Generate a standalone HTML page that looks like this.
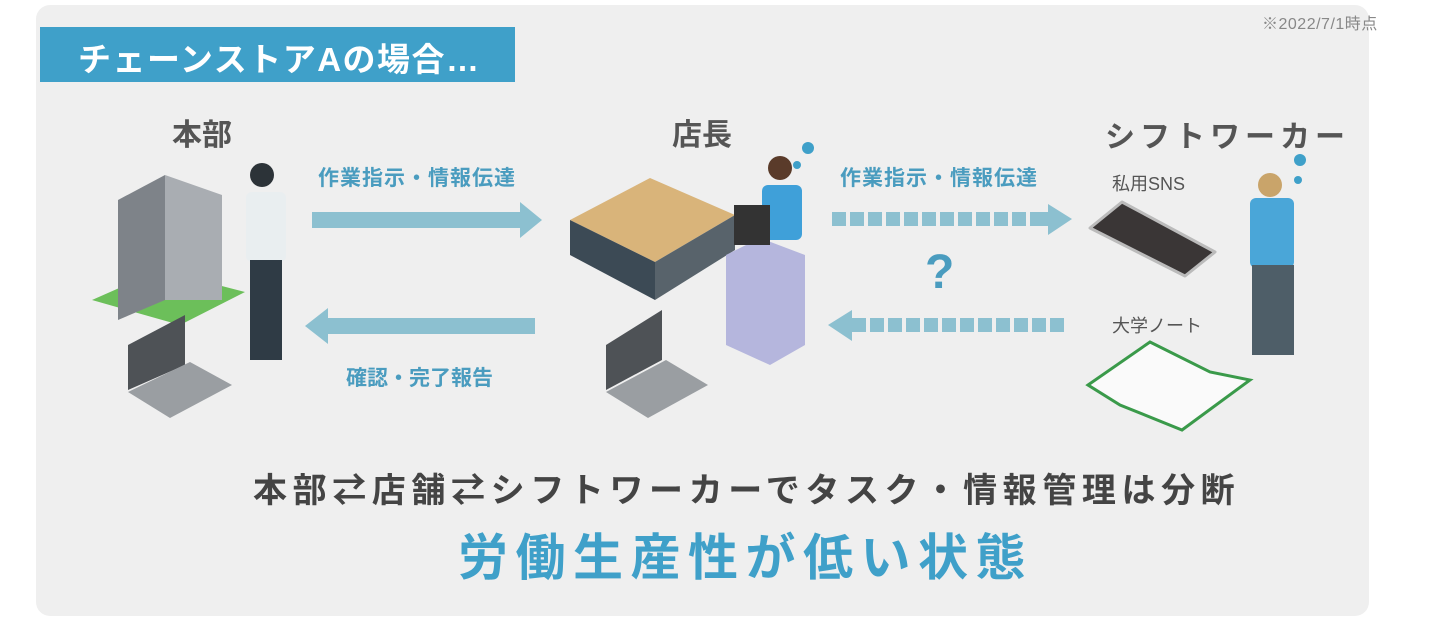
<!DOCTYPE html>
<html><head><meta charset="utf-8"><style>
body{margin:0;width:1440px;height:618px;background:#fff;position:relative;overflow:hidden;font-family:"Liberation Sans","Noto Sans CJK JP",sans-serif}
.t{position:absolute;white-space:nowrap}
</style></head><body>
<div style="position:absolute;left:36px;top:5px;width:1333px;height:611px;background:#efefef;border-radius:14px"></div>
<div class="t" style="left:1262px;top:10px;font-size:16px;color:#888;letter-spacing:0.5px">※2022/7/1時点</div>
<div style="position:absolute;left:40px;top:27px;width:475px;height:55px;background:#3fa0c9"></div>
<div class="t" style="left:78px;top:33px;font-size:33px;font-weight:bold;color:#fff;letter-spacing:1.5px">チェーンストアAの場合…</div>
<div class="t" style="left:172px;top:110px;font-size:30px;font-weight:bold;color:#555">本部</div>
<div class="t" style="left:672px;top:110px;font-size:30px;font-weight:bold;color:#555">店長</div>
<div class="t" style="left:1105px;top:112px;font-size:30px;font-weight:bold;color:#555;letter-spacing:5px">シフトワーカー</div>
<div class="t" style="left:318px;top:162px;font-size:21px;font-weight:bold;color:#4a9cbf;letter-spacing:1px">作業指示・情報伝達</div>
<div class="t" style="left:840px;top:162px;font-size:21px;font-weight:bold;color:#4a9cbf;letter-spacing:1px">作業指示・情報伝達</div>
<div class="t" style="left:346px;top:362px;font-size:21px;font-weight:bold;color:#4a9cbf">確認・完了報告</div>
<div class="t" style="left:1112px;top:170px;font-size:18px;color:#555">私用SNS</div>
<div class="t" style="left:1112px;top:312px;font-size:18px;color:#555">大学ノート</div>
<div class="t" style="left:925px;top:245px;font-size:48px;font-weight:bold;color:#4a9cbf">?</div>
<svg style="position:absolute;left:0;top:0" width="1440" height="618">
<g fill="#8cc0d0">
<polygon points="312,212 520,212 520,202 542,220 520,238 520,228 312,228"/>
<polygon points="535,318 328,318 328,308 305,326 328,344 328,334 535,334"/>
<polygon points="1048,204 1072,219 1048,235"/>
<polygon points="852,310 828,325 852,341"/>
</g>
<g fill="#8cc0d0">
<rect x="832" y="212" width="14" height="14"/><rect x="850" y="212" width="14" height="14"/><rect x="868" y="212" width="14" height="14"/><rect x="886" y="212" width="14" height="14"/><rect x="904" y="212" width="14" height="14"/><rect x="922" y="212" width="14" height="14"/><rect x="940" y="212" width="14" height="14"/><rect x="958" y="212" width="14" height="14"/><rect x="976" y="212" width="14" height="14"/><rect x="994" y="212" width="14" height="14"/><rect x="1012" y="212" width="14" height="14"/><rect x="1030" y="212" width="18" height="14"/>
<rect x="852" y="318" width="14" height="14"/><rect x="870" y="318" width="14" height="14"/><rect x="888" y="318" width="14" height="14"/><rect x="906" y="318" width="14" height="14"/><rect x="924" y="318" width="14" height="14"/><rect x="942" y="318" width="14" height="14"/><rect x="960" y="318" width="14" height="14"/><rect x="978" y="318" width="14" height="14"/><rect x="996" y="318" width="14" height="14"/><rect x="1014" y="318" width="14" height="14"/><rect x="1032" y="318" width="14" height="14"/><rect x="1050" y="318" width="14" height="14"/>
</g>
<polygon points="92,300 160,270 245,292 180,325" fill="#6cbf5a"/>
<polygon points="118,200 165,175 165,300 118,320" fill="#7e8389"/>
<polygon points="165,175 222,195 222,300 165,300" fill="#a9adb2"/>
<circle cx="262" cy="175" r="12" fill="#2c3338"/>
<rect x="246" y="192" width="40" height="70" rx="6" fill="#e9eef0"/>
<rect x="250" y="260" width="32" height="100" fill="#2f3b45"/>
<polygon points="128,345 185,315 185,365 128,390" fill="#4e5256"/>
<polygon points="128,392 190,362 232,385 170,418" fill="#9a9ea2"/>
<polygon points="606,345 662,310 662,360 606,390" fill="#4e5256"/>
<polygon points="606,392 666,360 708,385 648,418" fill="#9a9ea2"/>
<polygon points="570,220 650,178 735,215 655,262" fill="#d9b47a"/>
<polygon points="570,220 655,262 655,300 570,255" fill="#3c4a55"/>
<polygon points="655,262 735,215 735,250 655,300" fill="#58636b"/>
<circle cx="780" cy="168" r="12" fill="#5a3b2a"/>
<rect x="762" y="185" width="40" height="55" rx="6" fill="#3fa0d9"/>
<polygon points="726,255 760,238 805,255 805,345 770,365 726,345" fill="#b5b6dd"/>
<rect x="734" y="205" width="36" height="40" fill="#333"/>
<polygon points="1090,228 1122,202 1215,252 1185,276" fill="#3a3636" stroke="#bbb" stroke-width="3" stroke-linejoin="round"/>
<polygon points="1088,385 1150,342 1210,372 1250,380 1182,430 1120,405" fill="#fafafa" stroke="#3a9a4a" stroke-width="3"/>
<circle cx="1270" cy="185" r="12" fill="#c9a46a"/>
<rect x="1250" y="198" width="44" height="70" rx="6" fill="#4aa6d8"/>
<rect x="1252" y="265" width="42" height="90" fill="#4e5e68"/>
<g fill="#3fa0c9"><circle cx="808" cy="148" r="6"/><circle cx="1300" cy="160" r="6"/><circle cx="1298" cy="180" r="4"/><circle cx="797" cy="165" r="4"/></g>
</svg>
<div class="t" style="left:253px;top:463px;font-size:34px;font-weight:bold;color:#444;letter-spacing:5.6px">本部⇄店舗⇄シフトワーカーでタスク・情報管理は分断</div>
<div class="t" style="left:458px;top:518px;font-size:50px;font-weight:bold;color:#3fa0c9;letter-spacing:7.5px">労働生産性が低い状態</div>
</body></html>
